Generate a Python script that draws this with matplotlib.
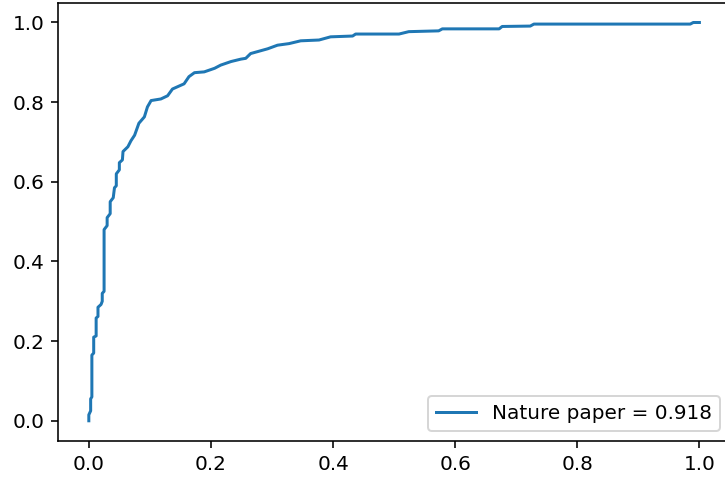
import matplotlib
matplotlib.use("Agg")
import matplotlib.pyplot as plt

# ROC curve points (false positive rate, true positive rate)
fpr = [0.000, 0.000, 0.003, 0.003, 0.005, 0.005, 0.008, 0.008, 0.012, 0.012,
       0.015, 0.015, 0.020, 0.022, 0.022, 0.025, 0.025, 0.025, 0.030, 0.030,
       0.035, 0.035, 0.040, 0.042, 0.045, 0.045, 0.050, 0.050, 0.055, 0.056,
       0.064, 0.069, 0.075, 0.082, 0.091, 0.096, 0.102, 0.118, 0.129, 0.137,
       0.156, 0.164, 0.173, 0.189, 0.206, 0.216, 0.233, 0.249, 0.257, 0.265,
       0.293, 0.309, 0.328, 0.347, 0.377, 0.396, 0.432, 0.437, 0.508, 0.524,
       0.573, 0.579, 0.672, 0.677, 0.723, 0.729, 0.985, 0.990, 1.000]
tpr = [0.000, 0.015, 0.025, 0.055, 0.060, 0.165, 0.170, 0.210, 0.213, 0.258,
       0.262, 0.285, 0.292, 0.300, 0.320, 0.325, 0.410, 0.480, 0.490, 0.510,
       0.520, 0.550, 0.560, 0.585, 0.590, 0.620, 0.630, 0.648, 0.655, 0.676,
       0.688, 0.703, 0.717, 0.747, 0.763, 0.788, 0.804, 0.808, 0.816, 0.833,
       0.846, 0.864, 0.874, 0.876, 0.885, 0.893, 0.902, 0.908, 0.910, 0.922,
       0.934, 0.943, 0.947, 0.954, 0.956, 0.964, 0.966, 0.971, 0.971, 0.977,
       0.979, 0.984, 0.984, 0.990, 0.991, 0.996, 0.996, 1.000, 1.000]
auc_label = "Nature paper = 0.918"

fig = plt.figure(figsize=(725 / 144, 477 / 144), dpi=144)
ax = fig.add_axes([0.0804, 0.0761, 0.9264, 0.9185])

ax.plot(fpr, tpr, label=auc_label)
ax.legend(loc="lower right")

fig.savefig("out.png", dpi=144)
